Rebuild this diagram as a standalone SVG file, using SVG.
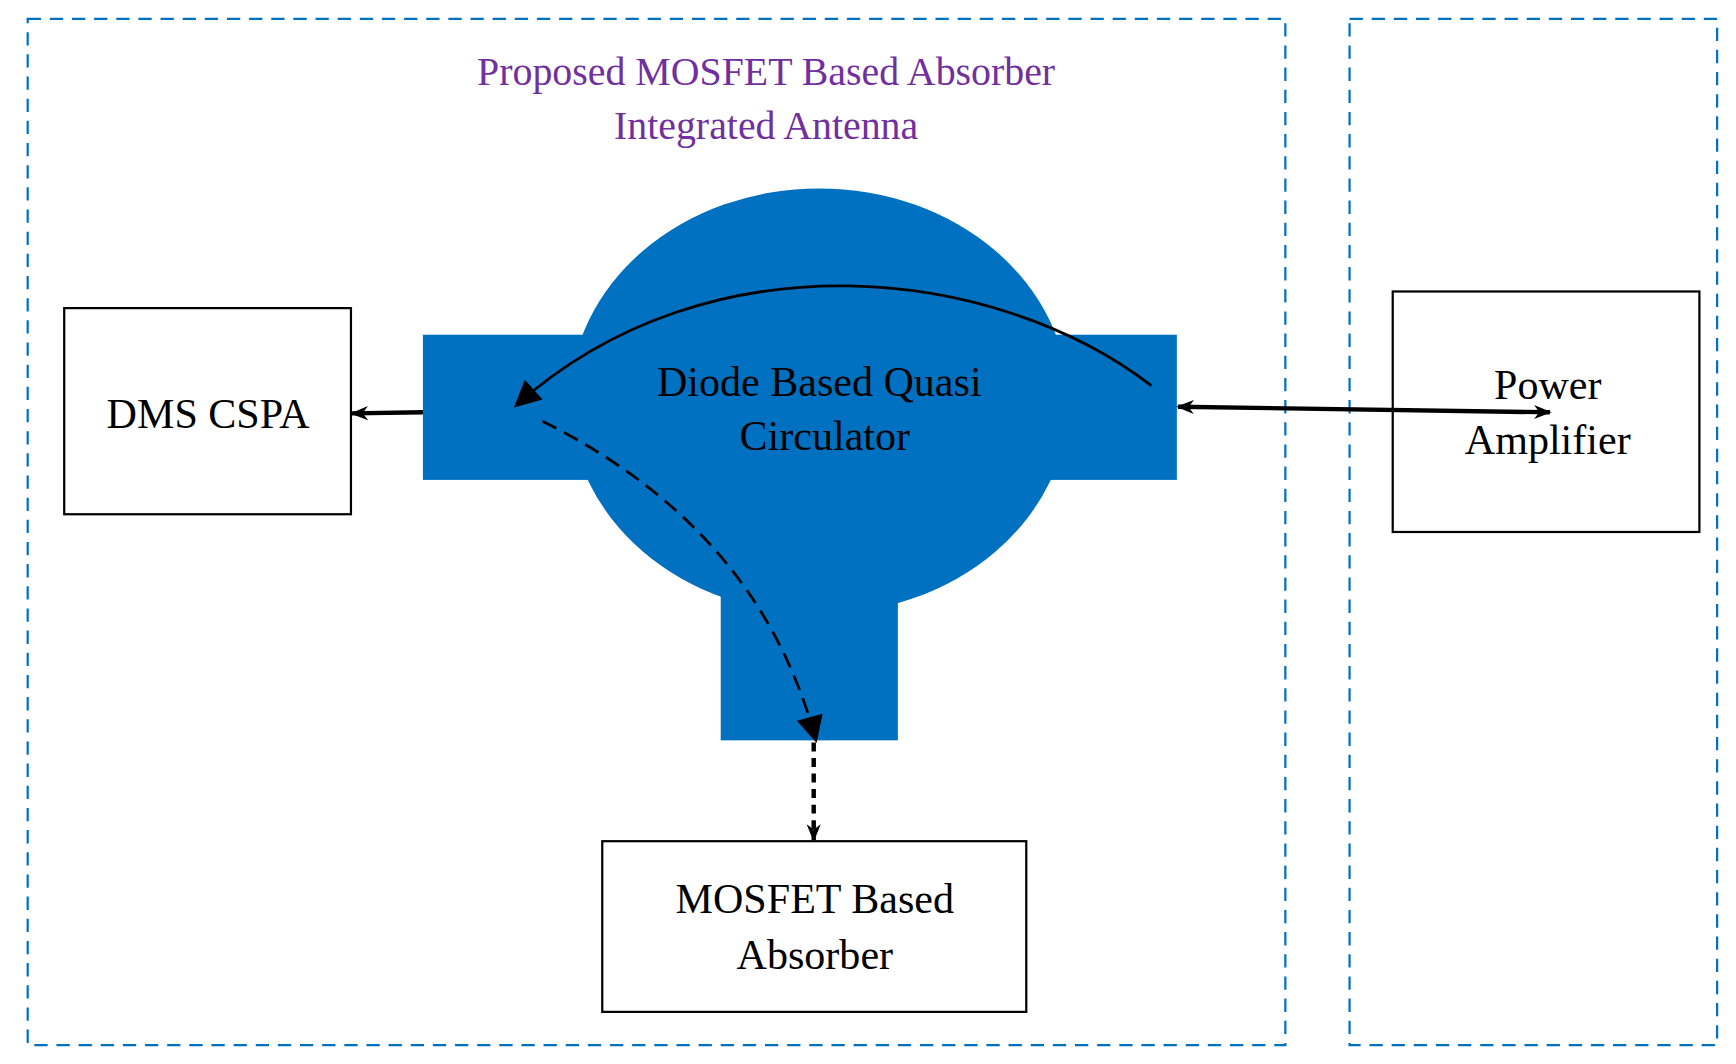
<svg xmlns="http://www.w3.org/2000/svg" width="1736" height="1064" viewBox="0 0 1736 1064">
<style>
.frame{fill:none;stroke:#0070C0;stroke-width:2;stroke-dasharray:12 8}
.box{fill:#fff;stroke:#000;stroke-width:2}
.t{font-family:"Liberation Serif",serif;font-size:38px;text-anchor:middle;fill:#000}
.ti{font-family:"Liberation Serif",serif;font-size:36px;text-anchor:middle;fill:#7030A0}
</style>
<defs>
<marker id="ah" markerWidth="8" markerHeight="8" refX="6" refY="4" orient="auto" markerUnits="userSpaceOnUse" viewBox="0 0 8 8"><path d="M0,0 L8,4 L0,8 Z" fill="#000"/></marker>
<marker id="big" viewBox="0 0 10 10" refX="9" refY="5" markerWidth="28" markerHeight="24" orient="auto" markerUnits="userSpaceOnUse"><path d="M0,0 L10,5 L0,10 Z" fill="#000"/></marker>
<marker id="sm" viewBox="0 0 10 10" refX="9" refY="5" markerWidth="16" markerHeight="16" orient="auto-start-reverse" markerUnits="userSpaceOnUse"><path d="M0,1 L10,5 L0,9 L3,5 Z" fill="#000"/></marker>
</defs>
<rect width="1736" height="1064" fill="#fff"/>
<g transform="scale(1.1071,1.1083)">
<g id="frames">
<rect class="frame" x="25" y="17" width="1136" height="926"/>
<rect class="frame" x="1219" y="17" width="332" height="926"/>
</g>
<g id="title">
<text class="ti" x="692" y="77">Proposed MOSFET Based Absorber</text>
<text class="ti" x="692" y="125">Integrated Antenna</text>
</g>
<g id="circulator">
<ellipse cx="740" cy="362" rx="225" ry="192" fill="#0070C0"/>
<rect x="382" y="302" width="681" height="131" fill="#0070C0"/>
<rect x="651" y="520" width="160" height="148" fill="#0070C0"/>
<text class="t" x="740" y="357">Diode Based Quasi</text>
<text class="t" x="745" y="406">Circulator</text>
</g>
<g id="dms">
<rect class="box" x="58" y="278" width="259" height="186"/>
<text class="t" x="188" y="386">DMS CSPA</text>
</g>
<g id="pa">
<rect class="box" x="1258" y="263" width="277" height="217"/>
<text class="t" x="1398" y="360">Power</text>
<text class="t" x="1398" y="410">Amplifier</text>
</g>
<g id="absorber">
<rect class="box" x="544" y="759" width="383" height="154"/>
<text class="t" x="736" y="824">MOSFET Based</text>
<text class="t" x="736" y="874">Absorber</text>
</g>
<g id="connectors" fill="none" stroke="#000">
<line x1="382" y1="372" x2="318" y2="373" stroke-width="4" marker-end="url(#sm)"/>
<line x1="1064" y1="367" x2="1400" y2="372" stroke-width="4" marker-start="url(#sm)" marker-end="url(#sm)"/>
<path d="M1040,348 C900,240 640,210 466,366" stroke-width="2.5" marker-end="url(#big)"/>
<path d="M490,380 C610,440 700,530 737,668" stroke-width="2.5" stroke-dasharray="14 8" marker-end="url(#big)"/>
<line x1="735" y1="670" x2="735" y2="758" stroke-width="4" stroke-dasharray="8 6" marker-end="url(#sm)"/>
</g>
</g>
</svg>
